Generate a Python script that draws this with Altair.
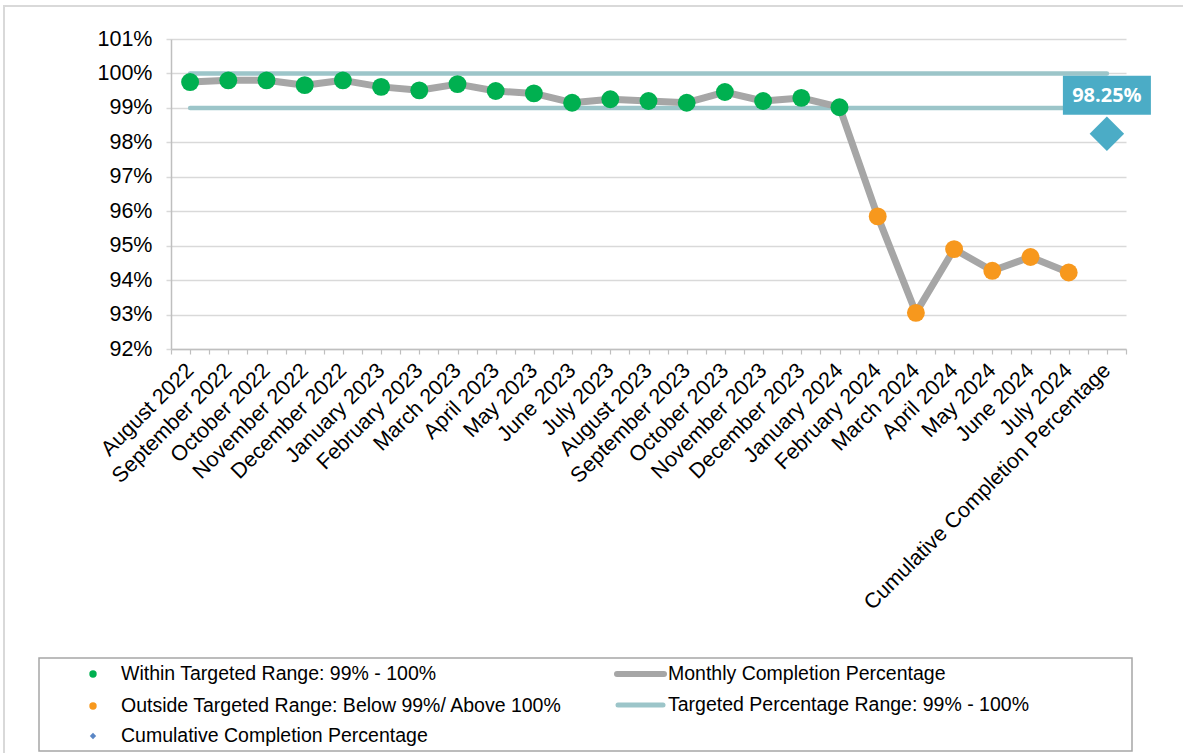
import json
import altair as alt
import pandas as pd

# ---------------- data ----------------
months = [
    "August 2022", "September 2022", "October 2022", "November 2022", "December 2022",
    "January 2023", "February 2023", "March 2023", "April 2023", "May 2023",
    "June 2023", "July 2023", "August 2023", "September 2023", "October 2023",
    "November 2023", "December 2023", "January 2024", "February 2024", "March 2024",
    "April 2024", "May 2024", "June 2024", "July 2024",
]
cumulative_category = "Cumulative Completion Percentage"
categories = months + [cumulative_category]

monthly_values = [
    99.75, 99.80, 99.80, 99.66, 99.80,
    99.61, 99.51, 99.69, 99.49, 99.42,
    99.15, 99.25, 99.20, 99.15, 99.46,
    99.20, 99.29, 99.02, 95.85, 93.05,
    94.90, 94.27, 94.67, 94.22,
]
cumulative_value = 98.25
target_low, target_high = 99, 100
y_ticks = [92, 93, 94, 95, 96, 97, 98, 99, 100, 101]

series_labels = {
    "within": "Within Targeted Range: 99% - 100%",
    "outside": "Outside Targeted Range: Below 99%/ Above 100%",
    "cumulative": "Cumulative Completion Percentage",
    "monthly": "Monthly Completion Percentage",
    "target": "Targeted Percentage Range: 99% - 100%",
}

# ---------------- styles ----------------
FONT = "Liberation Sans"
GREEN = "#00B050"
ORANGE = "#F7981D"
GRAY_LINE = "#A6A6A6"
TEAL = "#9CC5C9"
BLUE = "#4BACC6"
LEGEND_BLUE = "#5A86C5"

# ---------------- tables ----------------
monthly = pd.DataFrame({
    "idx": list(range(len(months))),
    "month": months,
    "value": monthly_values,
})
monthly["status"] = [
    "within" if target_low <= v <= target_high else "outside" for v in monthly_values
]

last_idx = len(categories) - 1
targets = pd.DataFrame({
    "idx": [0, last_idx, 0, last_idx],
    "value": [target_high, target_high, target_low, target_low],
    "level": ["high", "high", "low", "low"],
})

cum = pd.DataFrame({
    "idx": [last_idx],
    "value": [cumulative_value],
    "label": [f"{cumulative_value:.2f}%"],
})

# ---------------- encodings ----------------
n = len(categories)
tick_vals = [-0.5 + 0.5 * k for k in range(2 * n + 1)]
label_expr = "datum.value % 1 == 0 ? " + json.dumps(categories) + "[datum.value] : ''"

x_enc = alt.X(
    "idx:Q",
    scale=alt.Scale(domain=[-0.5, n - 0.5], nice=False, zero=False),
    axis=alt.Axis(
        values=tick_vals, labelExpr=label_expr, title=None, grid=False,
        labelAngle=-45, labelAlign="right", labelBaseline="middle",
        labelPadding=13, labelFontSize=21.5, labelFont=FONT, labelColor="#000000",
        labelOverlap=False, labelFlush=False, labelBound=False, labelLimit=0,
        domainColor="#BFBFBF", domainWidth=1.5, tickColor="#BFBFBF",
        tickSize=5, tickWidth=1.2,
    ),
)
y_enc = alt.Y(
    "value:Q",
    scale=alt.Scale(domain=[92, 101], nice=False, zero=False),
    axis=alt.Axis(
        values=y_ticks, labelExpr="datum.value + '%'", title=None,
        grid=True, gridColor="#D9D9D9", gridWidth=1.5,
        domainColor="#BFBFBF", domainWidth=1.5, tickColor="#D9D9D9",
        tickSize=5, tickWidth=1.5, labelPadding=14, labelFontSize=21.5,
        labelFont=FONT, labelColor="#000000",
    ),
)

target_layer = alt.Chart(targets).mark_line(
    color=TEAL, strokeWidth=4.5, strokeCap="round"
).encode(x=x_enc, y=y_enc, detail="level:N")

line_layer = alt.Chart(monthly).mark_line(
    color=GRAY_LINE, strokeWidth=7, strokeJoin="round"
).encode(x=x_enc, y=y_enc)

dot_layer = alt.Chart(monthly).mark_circle(size=320, opacity=1).encode(
    x=x_enc, y=y_enc,
    color=alt.Color("status:N", scale=alt.Scale(domain=["within", "outside"], range=[GREEN, ORANGE]), legend=None),
)

diamond_layer = alt.Chart(cum).mark_point(
    shape="diamond", filled=True, size=1190, color=BLUE, opacity=1
).encode(x=x_enc, y=y_enc)

box_layer = alt.Chart(cum).mark_point(
    shape="M-1,-0.4432L1,-0.4432L1,0.4432L-1,0.4432Z",
    filled=True, size=7744, color=BLUE, opacity=1, yOffset=-38.5,
).encode(x=x_enc, y=y_enc)

box_text = alt.Chart(cum).mark_text(
    font="Open Sans", fontWeight="bold", fontSize=20, color="white",
    align="center", baseline="middle", yOffset=-38,
).encode(x=x_enc, y=y_enc, text="label:N")

# ---------------- frame and legend (pixel layout) ----------------
one = pd.DataFrame({"k": [0]})

frame = alt.Chart(one).mark_rect(
    fillOpacity=0, stroke="#D9D9D9", strokeWidth=2
).encode(x=alt.value(-167), x2=alt.value(1030), y=alt.value(-33), y2=alt.value(730))

legend_box = alt.Chart(one).mark_rect(
    fillOpacity=0, stroke="#A6A6A6", strokeWidth=1.5
).encode(x=alt.value(-132), x2=alt.value(961), y=alt.value(619), y2=alt.value(712))


def legend_text(key, x, y):
    return alt.Chart(pd.DataFrame({"label": [series_labels[key]]})).mark_text(
        align="left", baseline="middle", font=FONT, fontSize=19.5, color="#000000"
    ).encode(x=alt.value(x), y=alt.value(y), text="label:N")


def legend_symbol(shape, color, size, x, y):
    return alt.Chart(one).mark_point(
        shape=shape, filled=True, size=size, color=color, opacity=1
    ).encode(x=alt.value(x), y=alt.value(y))


def legend_line(color, width, x1, x2, y):
    return alt.Chart(one).mark_rule(
        color=color, strokeWidth=width, strokeCap="round"
    ).encode(x=alt.value(x1), x2=alt.value(x2), y=alt.value(y))


legend_layers = [
    legend_box,
    legend_symbol("circle", GREEN, 55, -78, 635),
    legend_symbol("circle", ORANGE, 55, -78, 667),
    legend_symbol("diamond", LEGEND_BLUE, 40, -78, 697),
    legend_text("within", -50, 635),
    legend_text("outside", -50, 667),
    legend_text("cumulative", -50, 697),
    legend_line(GRAY_LINE, 6, 446, 493, 635),
    legend_line(TEAL, 5, 447, 492, 666),
    legend_text("monthly", 497, 635),
    legend_text("target", 497, 666),
]

chart = alt.layer(
    frame, target_layer, line_layer, dot_layer, diamond_layer, box_layer, box_text,
    *legend_layers,
).properties(
    width=955, height=310,
    autosize=alt.AutoSizeParams(type="none"),
    padding={"left": 171, "top": 39, "right": 57, "bottom": 404},
    background="white",
).configure_view(stroke=None)

chart.save("out.html", embed_options={"renderer": "svg", "actions": False})
